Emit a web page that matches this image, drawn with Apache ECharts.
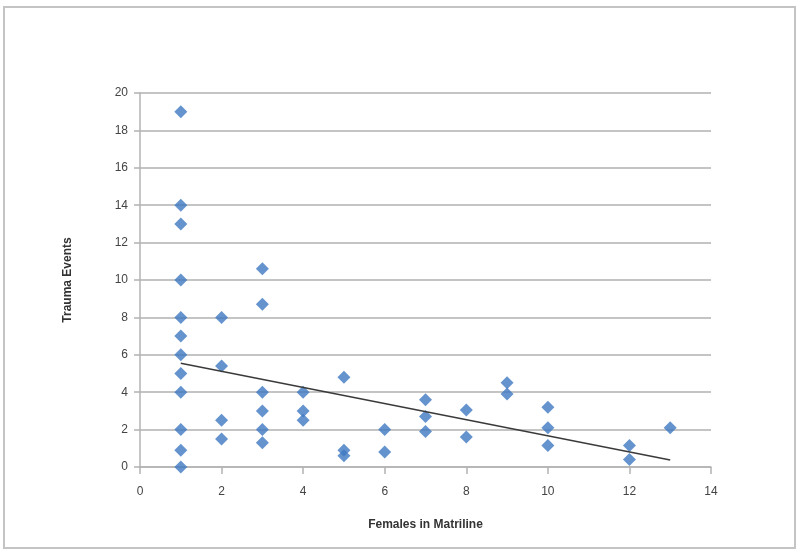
<!DOCTYPE html>
<html>
<head>
<meta charset="utf-8">
<script src="https://cdn.jsdelivr.net/npm/echarts@6/dist/echarts.min.js"></script>
<style>
  html, body { margin: 0; padding: 0; background: #fff; }
  #chart { width: 800px; height: 556px; }
</style>
</head>
<body>
<div id="chart"></div>
<script>
// females in matriline (x) and trauma events (y)
const femalesX = [1, 1, 1, 1, 1, 1, 1, 1, 1, 1, 1, 1,
  2, 2, 2, 2,
  3, 3, 3, 3, 3, 3,
  4, 4, 4,
  5, 5, 5,
  6, 6,
  7, 7, 7,
  8, 8,
  9, 9,
  10, 10, 10,
  12, 12,
  13];
const traumaY = [19, 14, 13, 10, 8, 7, 6, 5, 4, 2, 0.9, 0,
  8, 5.4, 2.5, 1.5,
  10.6, 8.7, 4, 3, 2, 1.3,
  4, 3, 2.5,
  4.8, 0.9, 0.6,
  2, 0.8,
  3.6, 2.7, 1.9,
  3.05, 1.6,
  4.5, 3.9,
  3.2, 2.1, 1.15,
  1.15, 0.4,
  2.1];

// linear trendline endpoints
const trendX = [1, 13];
const trendY = [5.55, 0.38];

const xTicks = { min: 0, max: 14, interval: 2 };
const yTicks = { min: 0, max: 20, interval: 2 };

const points = femalesX.map((x, i) => [x, traumaY[i]]);
const trend = trendX.map((x, i) => [x, trendY[i]]);

const chart = echarts.init(document.getElementById('chart'));
const labelFont = '"Liberation Sans", Arial, sans-serif';

chart.setOption({
  animation: false,
  graphic: [{
    type: 'rect',
    shape: { x: 4, y: 7, width: 791, height: 541 },
    style: { fill: 'none', stroke: '#c4c4c4', lineWidth: 2 },
    silent: true,
  }],
  grid: { left: 140, right: 89, top: 93, bottom: 89 },
  xAxis: {
    type: 'value',
    min: xTicks.min,
    max: xTicks.max,
    interval: xTicks.interval,
    name: 'Females in Matriline',
    nameLocation: 'middle',
    nameGap: 52,
    nameTextStyle: { fontFamily: labelFont, fontWeight: 'bold', fontSize: 12, color: '#333' },
    axisLine: { show: true, lineStyle: { color: '#b3b3b3', width: 1.5 } },
    axisTick: { show: true, length: 7, lineStyle: { color: '#b3b3b3', width: 1.5 } },
    axisLabel: { fontFamily: labelFont, fontSize: 12, color: '#444', margin: 19 },
    splitLine: { show: false },
  },
  yAxis: {
    type: 'value',
    min: yTicks.min,
    max: yTicks.max,
    interval: yTicks.interval,
    name: 'Trauma Events',
    nameLocation: 'middle',
    nameGap: 66,
    nameTextStyle: { fontFamily: labelFont, fontWeight: 'bold', fontSize: 12, color: '#333' },
    axisLine: { show: true, lineStyle: { color: '#b3b3b3', width: 1.5 } },
    axisTick: { show: true, length: 6, lineStyle: { color: '#b3b3b3', width: 1.5 } },
    axisLabel: { fontFamily: labelFont, fontSize: 12, color: '#444', margin: 12 },
    splitLine: { show: true, lineStyle: { color: '#c4c4c4', width: 2 } },
  },
  series: [
    {
      type: 'line',
      data: trend,
      symbol: 'none',
      lineStyle: { color: '#3a3a3a', width: 1.5 },
      z: 3,
    },
    {
      type: 'scatter',
      data: points,
      symbol: 'diamond',
      symbolSize: [13, 13],
      itemStyle: { color: '#3f78c2' },
      z: 2,
    },
  ],
});
</script>
</body>
</html>
